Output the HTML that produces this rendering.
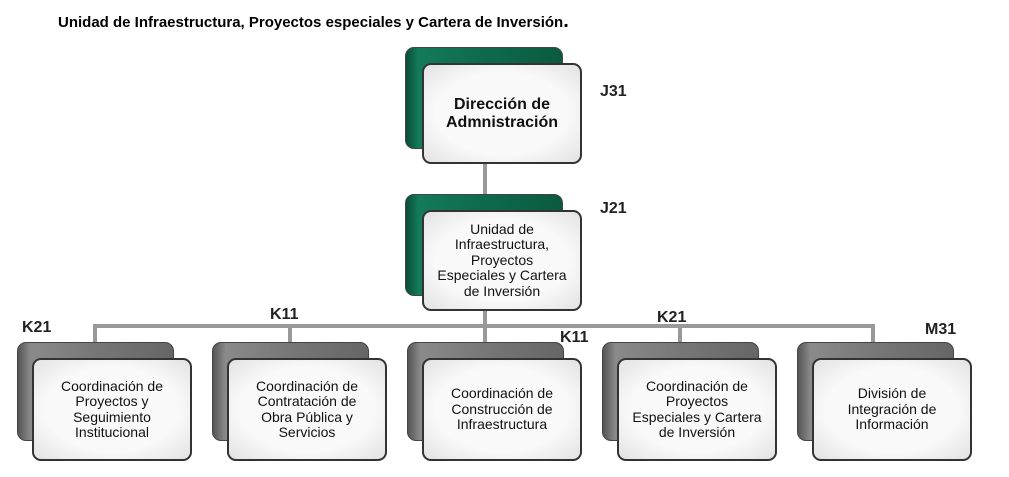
<!DOCTYPE html>
<html><head><meta charset="utf-8"><style>
body{margin:0;width:1009px;height:477px;background:#fff;position:relative;overflow:hidden;font-family:"Liberation Sans",Arial,sans-serif;}
.a{position:absolute;}
.back{position:absolute;border-radius:9px;border:1px solid #444;box-sizing:border-box;}
.g{background:linear-gradient(90deg,#0a4d38 0,#137a5a 8%,#0e6a4c 50%,#0b5a40 100%);}
.k{background:linear-gradient(90deg,#555 0,#8a8a8a 8%,#777 50%,#666 100%);}
.front{position:absolute;border-radius:9px;border:2px solid #333;box-sizing:border-box;background:radial-gradient(ellipse at center,#f9f9f9 60%,#e2e2e2 100%);display:flex;align-items:center;justify-content:center;text-align:center;font-size:14px;line-height:15.5px;color:#111;}
.ln{position:absolute;background:#999;}
.lb{position:absolute;font-weight:bold;font-size:16px;color:#222;}
</style></head><body>
<div class="a" style="left:58px;top:10px;font-weight:bold;font-size:15px;color:#000">Unidad de Infraestructura, Proyectos especiales y Cartera de Inversión<span style="font-size:20px">.</span></div>

<div class="ln" style="left:483px;top:150px;width:4px;height:62px"></div>
<div class="ln" style="left:483px;top:300px;width:4px;height:44px"></div>
<div class="ln" style="left:93px;top:324px;width:782px;height:4px"></div>
<div class="ln" style="left:93px;top:324px;width:4px;height:20px"></div>
<div class="ln" style="left:288px;top:324px;width:4px;height:20px"></div>
<div class="ln" style="left:678px;top:324px;width:4px;height:20px"></div>
<div class="ln" style="left:871px;top:324px;width:4px;height:20px"></div>

<div class="back g" style="left:405px;top:47px;width:158px;height:102px"></div>
<div class="front" style="left:422px;top:63px;width:160px;height:101px;font-weight:bold;font-size:16px;line-height:18px">Dirección de<br>Admnistración</div>
<div class="back g" style="left:405px;top:194px;width:158px;height:102px"></div>
<div class="front" style="left:422px;top:210px;width:160px;height:101px">Unidad de<br>Infraestructura,<br>Proyectos<br>Especiales y Cartera<br>de Inversión</div>

<div class="back k" style="left:17px;top:342px;width:157px;height:99px"></div>
<div class="front" style="left:32px;top:358px;width:160px;height:103px">Coordinación de<br>Proyectos y<br>Seguimiento<br>Institucional</div>
<div class="back k" style="left:212px;top:342px;width:157px;height:99px"></div>
<div class="front" style="left:227px;top:358px;width:160px;height:103px">Coordinación de<br>Contratación de<br>Obra Pública y<br>Servicios</div>
<div class="back k" style="left:407px;top:342px;width:157px;height:99px"></div>
<div class="front" style="left:422px;top:358px;width:160px;height:103px">Coordinación de<br>Construcción de<br>Infraestructura</div>
<div class="back k" style="left:602px;top:342px;width:157px;height:99px"></div>
<div class="front" style="left:617px;top:358px;width:160px;height:103px">Coordinación de<br>Proyectos<br>Especiales y Cartera<br>de Inversión</div>
<div class="back k" style="left:797px;top:342px;width:157px;height:99px"></div>
<div class="front" style="left:812px;top:358px;width:160px;height:103px">División de<br>Integración de<br>Información</div>

<div class="lb" style="left:600px;top:83px">J31</div>
<div class="lb" style="left:600px;top:200px">J21</div>
<div class="lb" style="left:22px;top:319px">K21</div>
<div class="lb" style="left:270px;top:306px">K11</div>
<div class="lb" style="left:560px;top:329px">K11</div>
<div class="lb" style="left:657px;top:309px">K21</div>
<div class="lb" style="left:925px;top:321px">M31</div>
</body></html>
